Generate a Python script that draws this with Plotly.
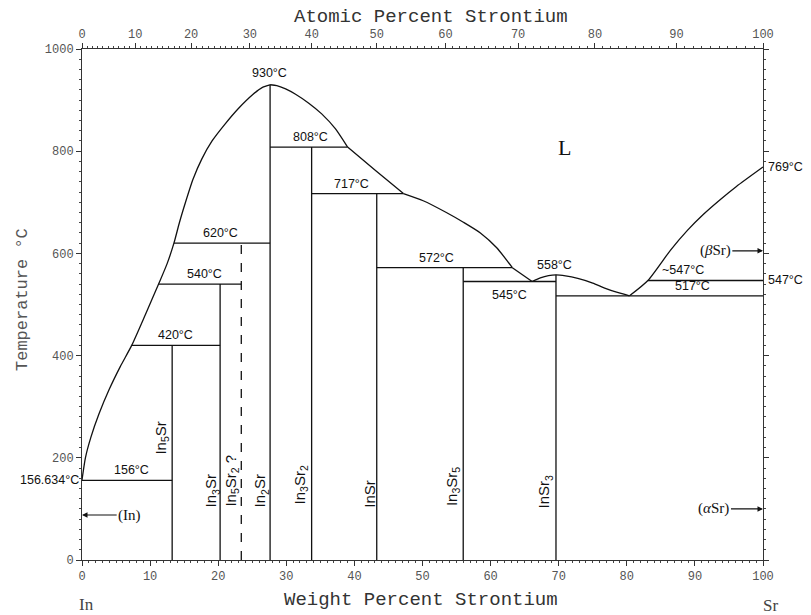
import plotly.graph_objects as go

# ---------------- data (wt.% Sr, temperature °C) ----------------
COMPOUNDS = ["In<sub>5</sub>Sr", "In<sub>3</sub>Sr", "In<sub>5</sub>Sr<sub>2</sub> ?", "In<sub>2</sub>Sr",
             "In<sub>3</sub>Sr<sub>2</sub>", "InSr", "In<sub>3</sub>Sr<sub>5</sub>", "InSr<sub>3</sub>"]
COMPOUND_WT = [13.24, 20.28, 23.39, 27.62, 33.72, 43.28, 55.98, 69.60]
COMPOUND_TOP_T = [420, 540, 620, 930, 808, 717, 572, 558]
COMPOUND_DASHED = [False, False, True, False, False, False, False, False]
COMPOUND_LABEL_WT = [11.7, 19.0, 22.0, 26.2, 32.1, 42.1, 54.5, 67.9]
COMPOUND_LABEL_T = [239, 135, 155, 135, 147, 129, 143, 135]

INV_T = [156, 420, 540, 620, 808, 717, 572, 545, 517, 547]
INV_X0 = [0, 7.3, 11.25, 13.5, 27.62, 33.72, 43.28, 55.98, 69.60, 83.1]
INV_X1 = [13.24, 20.28, 23.39, 27.62, 39.0, 47.2, 63.2, 69.60, 100, 100]

# liquidus, In side up to the In2Sr maximum
LIQ_A_WT = [0, 0.5, 1.3, 2.5, 4.0, 5.6, 7.3, 9.3, 11.25, 12.5, 13.5, 14.3, 15.2, 16.3, 17.6, 19.1,
            21.0, 23.0, 25.0, 26.5, 27.62]
LIQ_A_T = [156.634, 200, 240, 286, 334, 378, 420, 480, 540, 580, 620, 660, 700, 745, 785, 820,
           853, 884, 910, 925, 930]
# In2Sr maximum down to 808 °C peritectic
LIQ_B_WT = [27.62, 28.6, 29.9, 31.3, 33.3, 35.2, 37.2, 39.0]
LIQ_B_T = [930, 928.5, 922, 912, 894, 873, 844, 808]
# 808 -> 717 °C
LIQ_C_WT = [39.0, 43.1, 47.2]
LIQ_C_T = [808, 762, 717]
# 717 -> 572 °C
LIQ_D_WT = [47.2, 50.1, 53.5, 56.0, 58.5, 60.9, 63.2]
LIQ_D_T = [717, 703, 680, 661, 640, 611, 572]
# 572 -> 545 °C eutectic
LIQ_E_WT = [63.2, 66.1]
LIQ_E_T = [572, 545]
# InSr3 dome
LIQ_F_WT = [66.1, 67.3, 68.5, 69.6, 71.0, 72.8, 75.0, 76.75, 78.5, 80.4]
LIQ_F_T = [545, 552, 556.5, 558, 556, 551, 542, 532, 524, 517]
# Sr side
LIQ_G_WT = [80.4, 83.1, 86.4, 88.9, 91.3, 93.7, 96.1, 100]
LIQ_G_T = [517, 547, 606, 645, 677, 705, 731, 769]

INV_LABELS = ["930°C", "808°C", "717°C", "572°C", "545°C", "558°C", "~547°C", "517°C",
              "156°C", "420°C", "540°C", "620°C"]
INV_LABEL_WT = [27.6, 33.6, 39.5, 52.1, 62.8, 69.4, 88.2, 89.7, 7.3, 13.7, 18.0, 20.4]
INV_LABEL_T = [935, 810, 719, 574, 541, 560, 549, 519, 158, 422, 542, 622]
INV_LABEL_ANCHOR = ["bottom"] * 4 + ["top"] + ["bottom"] * 7

AT_MAJOR = list(range(0, 101, 10))
AT_MINOR = [a for a in range(0, 101) if a % 10 != 0]
M_IN, M_SR = 114.82, 87.62


def at_to_wt(a):
    return 100.0 * a * M_SR / (a * M_SR + (100 - a) * M_IN)


LINE = dict(color="#111111", width=1.3)

fig = go.Figure()

# liquidus curves
for xs, ys in [(LIQ_A_WT, LIQ_A_T), (LIQ_B_WT, LIQ_B_T), (LIQ_C_WT, LIQ_C_T), (LIQ_D_WT, LIQ_D_T),
               (LIQ_E_WT, LIQ_E_T), (LIQ_F_WT, LIQ_F_T), (LIQ_G_WT, LIQ_G_T)]:
    fig.add_trace(go.Scatter(x=xs, y=ys, mode="lines",
                             line=dict(color="#111111", width=1.3, shape="spline", smoothing=0.6),
                             hoverinfo="skip", showlegend=False))

# invariant horizontals
hx, hy = [], []
for t, x0, x1 in zip(INV_T, INV_X0, INV_X1):
    hx += [x0, x1, None]
    hy += [t, t, None]
fig.add_trace(go.Scatter(x=hx, y=hy, mode="lines", line=LINE, hoverinfo="skip", showlegend=False))

# compound verticals
for wt, top, dashed in zip(COMPOUND_WT, COMPOUND_TOP_T, COMPOUND_DASHED):
    fig.add_trace(go.Scatter(x=[wt, wt], y=[0, top], mode="lines",
                             line=dict(color="#111111", width=1.3, dash="dash" if dashed else "solid"),
                             hoverinfo="skip", showlegend=False))

# invisible trace for the secondary axes
fig.add_trace(go.Scatter(x=[0, 100], y=[0, 1000], xaxis="x2", yaxis="y2", mode="markers",
                         marker=dict(opacity=0), hoverinfo="skip", showlegend=False))

ann = []
LBL_FONT = dict(family="Liberation Sans, Arial, sans-serif", size=12.5, color="#111111")
for txt, x, y, anc in zip(INV_LABELS, INV_LABEL_WT, INV_LABEL_T, INV_LABEL_ANCHOR):
    ann.append(dict(x=x, y=y, text=txt, showarrow=False, xanchor="center", yanchor=anc,
                    yshift=-2 if anc == "top" else 0, font=LBL_FONT))

ann.append(dict(x=100, y=769, text="769°C", showarrow=False, xanchor="left", yanchor="middle",
                xshift=3, font=LBL_FONT))
ann.append(dict(x=100, y=547, text="547°C", showarrow=False, xanchor="left", yanchor="middle",
                xshift=3, font=LBL_FONT))
ann.append(dict(x=0, y=156.634, text="156.634°C", showarrow=False, xanchor="right", yanchor="middle",
                xshift=-1, font=LBL_FONT))

for name, x, y in zip(COMPOUNDS, COMPOUND_LABEL_WT, COMPOUND_LABEL_T):
    ann.append(dict(x=x, y=y, text=name, showarrow=False, textangle=-90, xanchor="center",
                    yanchor="middle",
                    font=dict(family="Liberation Sans, Arial, sans-serif", size=15, color="#111111")))

ann.append(dict(x=70.8, y=808, text="L", showarrow=False,
                font=dict(family="Liberation Serif, serif", size=22, color="#111111")))

SER = dict(family="Liberation Serif, serif", size=15, color="#111111")
ann.append(dict(x=0, y=88, ax=7.0, ay=88, axref="x", ayref="y", text="(In)", showarrow=True,
                arrowhead=2, arrowsize=1, arrowwidth=1.1, arrowcolor="#111111", font=SER))
ann.append(dict(x=100, y=605, ax=93.0, ay=605, axref="x", ayref="y", text="(<i>β</i>Sr)", showarrow=True,
                arrowhead=2, arrowsize=1, arrowwidth=1.1, arrowcolor="#111111", font=SER))
ann.append(dict(x=100, y=100, ax=92.8, ay=100, axref="x", ayref="y", text="(<i>α</i>Sr)", showarrow=True,
                arrowhead=2, arrowsize=1, arrowwidth=1.1, arrowcolor="#111111", font=SER))

TITLE_FONT = dict(family="Liberation Mono, DejaVu Sans Mono, monospace", size=19, color="#333333")
ann.append(dict(xref="paper", yref="paper", x=(431 - 82) / 681, y=1 + (49 - 17) / 511,
                text="Atomic Percent Strontium", showarrow=False, xanchor="center", yanchor="middle",
                font=TITLE_FONT))
ann.append(dict(xref="paper", yref="paper", x=(421 - 82) / 681, y=-(600 - 560) / 511,
                text="Weight Percent Strontium", showarrow=False, xanchor="center", yanchor="middle",
                font=TITLE_FONT))
ann.append(dict(xref="paper", yref="paper", x=-(82 - 22) / 681, y=(560 - 300) / 511,
                text="Temperature °C", showarrow=False, textangle=-90, xanchor="center", yanchor="middle",
                font=dict(family="Liberation Mono, DejaVu Sans Mono, monospace", size=17, color="#555555")))
ann.append(dict(xref="paper", yref="paper", x=(86 - 82) / 681, y=-(604 - 560) / 511,
                text="In", showarrow=False, xanchor="center", yanchor="middle",
                font=dict(family="Liberation Serif, serif", size=17, color="#444444")))
ann.append(dict(xref="paper", yref="paper", x=(770 - 82) / 681, y=-(605 - 560) / 511,
                text="Sr", showarrow=False, xanchor="center", yanchor="middle",
                font=dict(family="Liberation Serif, serif", size=17, color="#444444")))

TICK_FONT = dict(family="Liberation Mono, DejaVu Sans Mono, monospace", size=12, color="#555555")
AX = dict(showline=True, linecolor="#333333", linewidth=1, showgrid=False, zeroline=False,
          ticks="outside", ticklen=5, tickcolor="#333333", tickfont=TICK_FONT)

fig.update_layout(
    width=811, height=615,
    margin=dict(l=82, r=48, t=49, b=55),
    paper_bgcolor="white", plot_bgcolor="white",
    showlegend=False,
    xaxis=dict(range=[0, 100], dtick=10, tick0=0,
               minor=dict(dtick=1, ticklen=2, tickcolor="#444444", ticks="outside"), **AX),
    yaxis=dict(range=[0, 1000], dtick=200, tick0=0,
               minor=dict(dtick=20, ticklen=2, tickcolor="#444444", ticks="outside"), **AX),
    xaxis2=dict(range=[0, 100], overlaying="x", side="top", tickmode="array",
                tickvals=[at_to_wt(a) for a in AT_MAJOR], ticktext=[str(a) for a in AT_MAJOR],
                minor=dict(tickmode="array", tickvals=[at_to_wt(a) for a in AT_MINOR],
                           ticklen=2, tickcolor="#444444", ticks="outside"), **AX),
    yaxis2=dict(range=[0, 1000], overlaying="y", side="right", dtick=200, tick0=0,
                showticklabels=False,
                minor=dict(dtick=20, ticklen=2, tickcolor="#444444", ticks="outside"), **AX),
    annotations=ann,
)

fig.write_html("out.html")
